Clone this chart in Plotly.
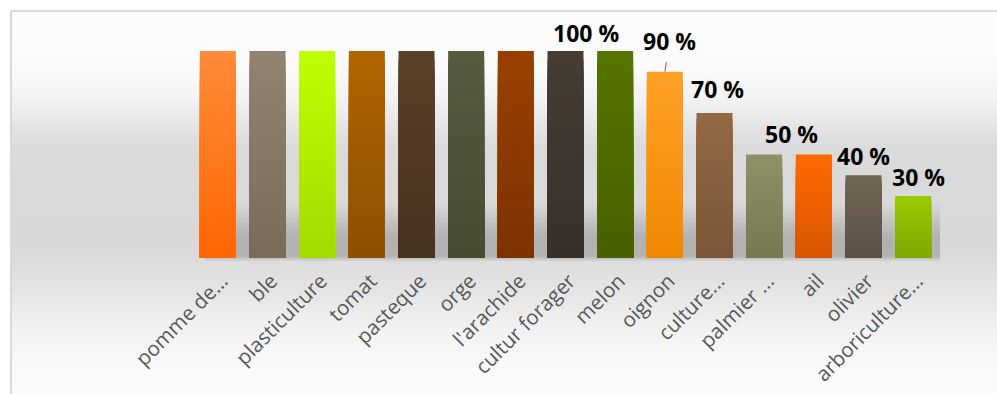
import plotly.graph_objects as go

# ---------------- data ----------------
categories = ["pomme de...", "ble", "plasticulture", "tomat", "pasteque", "orge",
              "l'arachide", "cultur forager", "melon", "oignon", "culture...",
              "palmier ...", "ail", "olivier", "arboriculture..."]
values = [1.00, 1.00, 1.00, 1.00, 1.00, 1.00, 1.00, 1.00, 1.00, 0.90, 0.70,
          0.50, 0.50, 0.40, 0.30]
# categories whose value label is shown
labelled = ["cultur forager", "oignon", "culture...", "ail", "olivier", "arboriculture..."]

# ---------------- styles ----------------
top_colors = ["#FF8B3A", "#928472", "#BFFF00", "#B06500", "#5A4028", "#575A3F",
              "#9A4000", "#463C33", "#567400", "#FFA127", "#946944", "#8E9066",
              "#FF6A00", "#716655", "#99CC00"]
bottom_colors = ["#FF6600", "#786B59", "#A3DA00", "#8F4F00", "#483220", "#484B32",
                 "#7C3200", "#37302A", "#486000", "#F08800", "#7A5535", "#767A50",
                 "#D95500", "#5A5045", "#7DA800"]
label_offsets = {  # (xshift, yshift) in px
    "cultur forager": (20, 18),
    "oignon": (5, 31),
    "culture...": (3, 24),
    "ail": (-22, 21),
    "olivier": (0, 19),
    "arboriculture...": (5, 19),
}

W, H = 997, 394
L, R, T, B = 193, 59, 51, 136
PW, PH = W - L - R, H - T - B


def px(x):
    return (x - L) / PW


def py(y):
    return (H - B - y) / PH


def hex2rgb(h):
    h = h.lstrip("#")
    return tuple(int(h[i:i + 2], 16) for i in (0, 2, 4))


def mix(c1, c2, t):
    a, b = hex2rgb(c1), hex2rgb(c2)
    return "rgb(%d,%d,%d)" % tuple(round(a[i] + (b[i] - a[i]) * t) for i in range(3))


fig = go.Figure()

# gradient bars: overlaid bars of decreasing height, darker toward the base
N = 24
for k in range(N):
    frac = 1 - k / N
    t = 1 - (k + 0.5) / N  # 1 = top colour
    fig.add_trace(go.Bar(
        x=categories,
        y=[v * frac for v in values],
        marker=dict(color=[mix(bc, tc, t) for tc, bc in zip(top_colors, bottom_colors)],
                    line=dict(width=0)),
        hoverinfo="skip", showlegend=False,
    ))

shapes = []
# background vertical gradient
stops = [(11, 253), (70, 250), (100, 242), (130, 226), (150, 218), (240, 216),
         (270, 222), (300, 232), (330, 242), (360, 248), (394, 251)]


def grey_at(y):
    for (y0, g0), (y1, g1) in zip(stops, stops[1:]):
        if y0 <= y <= y1:
            return g0 + (g1 - g0) * (y - y0) / (y1 - y0)
    return stops[-1][1]


step = 2
for y in range(12, H + 2, step):
    g = round(grey_at(y + step / 2))
    shapes.append(dict(type="rect", xref="paper", yref="paper",
                       x0=px(12), x1=px(W + 5), y0=py(y + step), y1=py(y),
                       fillcolor="rgb(%d,%d,%d)" % (g, g, g), line=dict(width=0),
                       layer="below"))


# soft floor shadow behind the bars
def shadow_alpha(y):
    if y < 203 or y > 262:
        return 0
    if y < 238:
        return 0.18 * (y - 203) / 35
    if y < 256:
        return 0.18
    return 0.18 * (262 - y) / 6


for y in range(203, 262, 2):
    a = shadow_alpha(y + 1)
    if a <= 0:
        continue
    shapes.append(dict(type="rect", xref="paper", yref="paper",
                       x0=px(205), x1=px(940), y0=py(y + 2), y1=py(y),
                       fillcolor="rgba(0,0,0,%.3f)" % a, line=dict(width=0),
                       layer="below"))

# outer border
shapes.append(dict(type="line", xref="paper", yref="paper", x0=px(11), x1=px(W + 5),
                   y0=py(11), y1=py(11), line=dict(color="#d9d9d9", width=2), layer="above"))
shapes.append(dict(type="line", xref="paper", yref="paper", x0=px(11), x1=px(11),
                   y0=py(11), y1=py(H + 5), line=dict(color="#d9d9d9", width=2), layer="above"))

annotations = []
label_font = dict(family="Open Sans", size=23, color="#000000")
for cat, v in zip(categories, values):
    if cat not in labelled:
        continue
    xs, ys = label_offsets[cat]
    txt = "<b>%d %%</b>" % round(v * 100)
    if cat == "oignon":
        annotations.append(dict(x=cat, y=v, xref="x", yref="y", text=txt,
                                showarrow=True, arrowhead=0, arrowwidth=1.2,
                                arrowcolor="#7f7f7f", ax=xs, ay=-ys, standoff=0,
                                startstandoff=4, font=label_font))
    else:
        annotations.append(dict(x=cat, y=v, xref="x", yref="y", text=txt,
                                showarrow=False, xshift=xs, yshift=ys, yanchor="middle",
                                font=label_font))

fig.update_layout(
    width=W, height=H,
    margin=dict(l=L, r=R, t=T, b=B, autoexpand=False),
    paper_bgcolor="#ffffff", plot_bgcolor="rgba(0,0,0,0)",
    barmode="overlay", bargap=0.275,
    shapes=shapes, annotations=annotations,
    xaxis=dict(type="category", range=[-0.5, len(categories) - 0.5],
               tickangle=-45, showgrid=False, showline=False, zeroline=False,
               ticks="", ticklabelstandoff=6, ticklabelshift=4, automargin=False,
               tickfont=dict(family="Open Sans", size=20.5, color="#595959")),
    yaxis=dict(range=[0, 1], visible=False, automargin=False),
    showlegend=False,
)

fig.write_html("out.html")
